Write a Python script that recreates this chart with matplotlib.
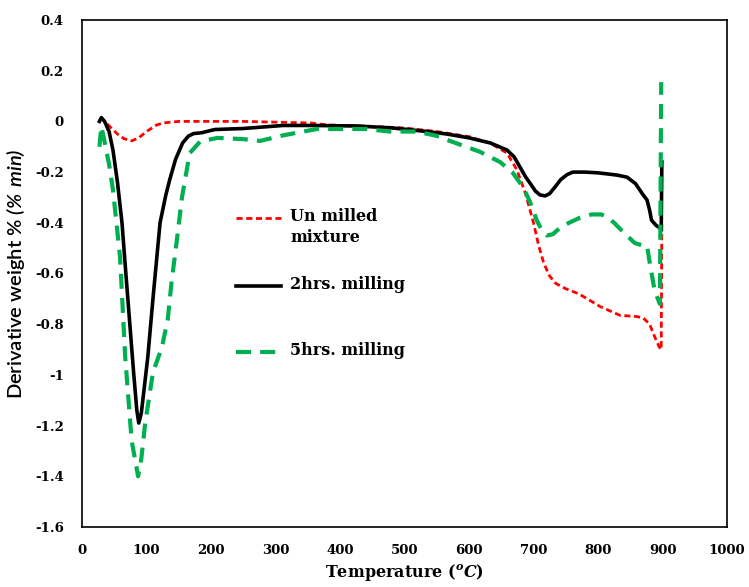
import matplotlib
matplotlib.use("Agg")
import matplotlib.pyplot as plt
import numpy as np

# DTG curves, temperature in degC, derivative weight in %/min
t_unmilled = [28, 35, 45, 55, 65, 77, 88, 100, 115, 126, 150, 183, 250, 300, 354, 380,
              450, 500, 550, 600, 633, 659, 674, 687, 700, 708, 716, 725, 735, 750,
              770, 790, 803, 834, 860, 870, 880, 888, 895, 898, 899]
w_unmilled = [0.015, 0.0, -0.025, -0.05, -0.068, -0.077, -0.065, -0.04, -0.015, -0.006,
              0.0, 0.0, 0.0, -0.003, -0.006, -0.014, -0.02, -0.026, -0.04, -0.06, -0.086,
              -0.125, -0.19, -0.28, -0.4, -0.49, -0.56, -0.61, -0.64, -0.66, -0.68,
              -0.71, -0.73, -0.765, -0.77, -0.775, -0.8, -0.85, -0.89, -0.9, -0.4]

t_2h = [27, 30, 35, 42, 48, 55, 62, 68, 74, 80, 85, 88, 92, 97, 102, 110, 121, 130,
        136, 145, 156, 165, 173, 185, 206, 250, 312, 350, 426, 482, 535, 566, 600, 633,
        659, 670, 679, 688, 695, 703, 710, 718, 725, 733, 742, 752, 761, 780, 800, 814,
        830, 845, 858, 870, 876, 880, 883, 890, 896, 898, 899]
w_2h = [0.0, 0.015, 0.0, -0.04, -0.113, -0.24, -0.40, -0.60, -0.795, -0.99, -1.14,
        -1.19, -1.15, -1.04, -0.93, -0.70, -0.40, -0.29, -0.23, -0.15, -0.085, -0.058,
        -0.048, -0.045, -0.032, -0.028, -0.016, -0.016, -0.018, -0.026, -0.04, -0.05,
        -0.065, -0.085, -0.113, -0.14, -0.18, -0.22, -0.245, -0.275, -0.29, -0.294,
        -0.285, -0.26, -0.23, -0.21, -0.2, -0.2, -0.203, -0.207, -0.212, -0.22, -0.245,
        -0.29, -0.31, -0.35, -0.39, -0.41, -0.42, -0.43, -0.16]

t_5h = [27, 30, 35, 42, 48, 59, 67, 77, 87, 92, 98, 110, 124, 133, 139, 147, 155, 167,
        183, 210, 250, 276, 312, 364, 441, 477, 519, 555, 566, 617, 648, 667, 684, 695,
        705, 713, 721, 730, 741, 755, 772, 790, 805, 814, 825, 839, 857, 870, 876, 881,
        888, 896, 898]
w_5h = [-0.10, -0.02, -0.08, -0.17, -0.27, -0.535, -0.93, -1.26, -1.40, -1.33, -1.19,
        -0.99, -0.89, -0.78, -0.63, -0.47, -0.30, -0.125, -0.08, -0.065, -0.07, -0.077,
        -0.055, -0.03, -0.03, -0.04, -0.04, -0.06, -0.073, -0.12, -0.16, -0.2, -0.26,
        -0.32, -0.39, -0.43, -0.45, -0.445, -0.42, -0.4, -0.38, -0.367, -0.367, -0.377,
        -0.40, -0.436, -0.48, -0.49, -0.49, -0.57, -0.67, -0.72, 0.155]

labels = ["Un milled\nmixture", "2hrs. milling", "5hrs. milling"]
xticks = [0, 100, 200, 300, 400, 500, 600, 700, 800, 900, 1000]
yticks = [-1.6, -1.4, -1.2, -1, -0.8, -0.6, -0.4, -0.2, 0, 0.2, 0.4]
ytick_labels = ["-1.6", "-1.4", "-1.2", "-1", "-0.8", "-0.6", "-0.4", "-0.2", "0", "0.2", "0.4"]

plt.rcParams["mathtext.fontset"] = "custom"
plt.rcParams["mathtext.it"] = "DejaVu Serif:italic:bold"
plt.rcParams["mathtext.rm"] = "DejaVu Serif:bold"
plt.rcParams["mathtext.sf"] = "Lato:italic:semibold"

fig = plt.figure(figsize=(7.49, 5.87), dpi=100)
ax = fig.add_axes([82/749, 60/587, 645/749, 507/587])

red = "#FF0000"
green = "#00B050"
red_style = dict(color=red, lw=2, dashes=(2.2, 1.3))
black_style = dict(color="black", lw=2.6, solid_joinstyle="round")
green_style = dict(color=green, lw=3, dashes=(3.6, 2.2))

ax.plot(t_unmilled, w_unmilled, **red_style)
ax.plot(t_2h, w_2h, **black_style)
ax.plot(t_5h, w_5h, **green_style)

ax.set_xlim(0, 1000)
ax.set_ylim(-1.6, 0.4)
ax.set_xticks(xticks)
ax.set_yticks(yticks)
ax.set_yticklabels(ytick_labels)
ax.tick_params(length=0, labelsize=9.5)
ax.tick_params(axis="x", pad=12)
ax.tick_params(axis="y", pad=13)
for lab in ax.get_xticklabels() + ax.get_yticklabels():
    lab.set_family("DejaVu Serif")
    lab.set_fontweight("bold")
for sp in ax.spines.values():
    sp.set_linewidth(1.2)
    sp.set_color("black")

ax.set_xlabel(r"Temperature $\mathit{(^{o}C)}$", family="DejaVu Serif",
              fontweight="bold", fontsize=11.5, labelpad=4)
ax.set_ylabel(r"Derivative weight % $\mathsf{(\%\ min)}$", family="Lato",
              fontweight="semibold", fontsize=14.5, labelpad=6)

# hand-placed legend inside the plot
leg_y = [0.609, 0.475, 0.345]
for yy, lab, st in zip(leg_y, labels, [red_style, black_style, green_style]):
    ax.plot([0.239, 0.309], [yy, yy], transform=ax.transAxes, **st)
    ax.text(0.3225, yy + 0.02, lab, transform=ax.transAxes, va="top", ha="left",
            family="DejaVu Serif", fontweight="bold", fontsize=11.5, linespacing=1.3)

fig.savefig("out.png", dpi=100)
